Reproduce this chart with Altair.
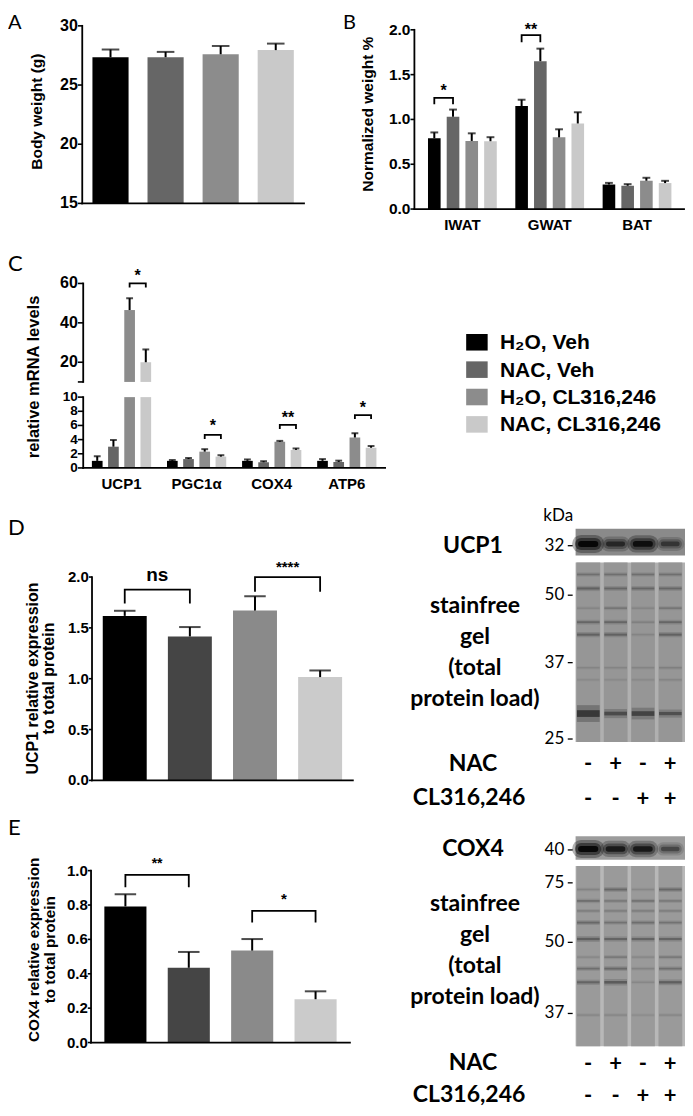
import altair as alt
import pandas as pd

W, H = 677, 1100
SX, SY = W / 693.0, H / 1109.0
Y0 = 3.0


def px(v):
    return round(v * SX, 2)


def py(v):
    return round((v - Y0) * SY, 2)


GP = "Liberation Sans"
BL = "Lato"

# ---------------- data ----------------
conds = ["H₂O, Veh", "NAC, Veh", "H₂O, CL316,246", "NAC, CL316,246"]
colors_abc = ["#000000", "#666666", "#8c8c8c", "#c9c9c9"]
colors_de = ["#000000", "#454545", "#8a8a8a", "#cbcbcb"]

# A: body weight
a_mean = [27.35, 27.35, 27.6, 27.95]
a_sem = [0.65, 0.45, 0.7, 0.55]
a_ticks = [15, 20, 25, 30]

# B: normalized weight
b_tissues = ["IWAT", "GWAT", "BAT"]
b_iwat_mean = [0.79, 1.03, 0.76, 0.757]
b_iwat_sem = [0.065, 0.08, 0.085, 0.045]
b_gwat_mean = [1.15, 1.65, 0.80, 0.955]
b_gwat_sem = [0.07, 0.14, 0.09, 0.125]
b_bat_mean = [0.274, 0.26, 0.316, 0.29]
b_bat_sem = [0.018, 0.018, 0.033, 0.025]
b_ticks = [0.0, 0.5, 1.0, 1.5, 2.0]
b_sig = [("IWAT", 0, 1, 1.24, 1.17, "*"), ("GWAT", 0, 1, 1.94, 1.86, "**")]

# C: mRNA levels
c_genes = ["UCP1", "PGC1α", "COX4", "ATP6"]
c_ucp1_mean = [1.0, 3.0, 46.5, 20.0]
c_ucp1_sem = [0.65, 0.95, 6.0, 6.5]
c_pgc1a_mean = [1.0, 1.25, 2.3, 1.6]
c_pgc1a_sem = [0.12, 0.15, 0.35, 0.2]
c_cox4_mean = [1.0, 0.8, 3.7, 2.55]
c_cox4_sem = [0.2, 0.15, 0.12, 0.2]
c_atp6_mean = [1.0, 0.85, 4.3, 2.85]
c_atp6_sem = [0.25, 0.18, 0.6, 0.25]
c_low_ticks = [0, 2, 4, 6, 8, 10]
c_high_ticks = [10, 20, 40, 60]
c_sig_high = [("UCP1", 2, 3, 60.3, 58.0, "*")]
c_sig_low = [("PGC1α", 2, 3, 4.67, 4.1, "*"), ("COX4", 2, 3, 6.07, 5.5, "**"),
             ("ATP6", 2, 3, 7.47, 6.9, "*")]

# D: UCP1 protein
d_mean = [1.618, 1.416, 1.67, 1.016]
d_sem = [0.05, 0.092, 0.14, 0.065]
d_ticks = [0.0, 0.5, 1.0, 1.5, 2.0]
d_sig = [(0, 1, 1.877, 1.74, "ns"), (2, 3, 2.0, 1.855, "****")]

# E: COX4 protein
e_mean = [0.792, 0.435, 0.535, 0.252]
e_sem = [0.07, 0.092, 0.067, 0.046]
e_ticks = [0.0, 0.2, 0.4, 0.6, 0.8, 1.0]
e_sig = [(0, 1, 0.975, 0.904, "**"), (2, 3, 0.766, 0.698, "*")]

# blots
lanes = [0, 1, 2, 3]
nac_signs = ["-", "+", "-", "+"]
cl_signs = ["-", "-", "+", "+"]
ucp1_marker = [32]
ucp1_band_kda = 32.2
ucp1_band_int = [1.0, 0.62, 0.9, 0.5]
cox4_marker = [40]
cox4_band_kda = 40.1
cox4_band_int = [1.0, 0.78, 0.8, 0.42]
gel1_markers = [25, 37, 50]
gel1_band_kda = [54.0, 51.3, 47.5, 44.8, 42.4, 36.2, 34.3, 29.0]
gel1_lane1 = [0.35, 0.5, 0.15, 0.45, 0.5, 0.15, 0.1, 1.0]
gel1_lane2 = [0.35, 0.45, 0.3, 0.45, 0.5, 0.15, 0.1, 0.75]
gel1_lane3 = [0.35, 0.45, 0.15, 0.2, 0.15, 0.15, 0.1, 0.85]
gel1_lane4 = [0.35, 0.45, 0.3, 0.45, 0.5, 0.2, 0.15, 0.7]
gel2_markers = [37, 50, 75]
gel2_band_kda = [72.2, 67.4, 63.2, 58.3, 51.4, 47.3, 45.2, 42.7, 36.7]
gel2_lane1 = [0.2, 0.4, 0.25, 0.45, 0.55, 0.15, 0.4, 0.5, 0.15]
gel2_lane2 = [0.45, 0.3, 0.25, 0.35, 0.5, 0.3, 0.45, 0.6, 0.15]
gel2_lane3 = [0.15, 0.35, 0.25, 0.4, 0.5, 0.15, 0.2, 0.15, 0.1]
gel2_lane4 = [0.45, 0.3, 0.25, 0.35, 0.5, 0.3, 0.4, 0.55, 0.15]

ONE = alt.Data(values=[{}])


# ---------------- helpers ----------------
def y_axis(ax_x, ticks, fmt, ydom, lsize, tick_len, gap, hide=()):
    labs = ["" if v in hide else format(v, fmt) for v in ticks]
    tdf = pd.DataFrame({"v": ticks, "lab": labs})
    dom = alt.Chart(ONE).mark_rule(color="black", strokeWidth=1.8, strokeCap="square").encode(
        x=alt.value(px(ax_x)), y=alt.YDatum(ydom[0], axis=None), y2=alt.Y2Datum(ydom[1]))
    tk = alt.Chart(tdf).mark_rule(color="black", strokeWidth=1.6).encode(
        x=alt.value(px(ax_x - tick_len)), x2=alt.value(px(ax_x)), y=alt.Y("v:Q", axis=None))
    lb = alt.Chart(tdf).mark_text(align="right", baseline="middle", font=GP, fontSize=lsize,
                                  fontWeight="bold", color="black").encode(
        x=alt.value(px(ax_x - gap)), y=alt.Y("v:Q", axis=None), text="lab:N")
    return [dom, tk, lb]


def x_axis(x0, x1, base):
    return alt.Chart(ONE).mark_rule(color="black", strokeWidth=1.8, strokeCap="square").encode(
        x=alt.value(px(x0)), x2=alt.value(px(x1)), y=alt.YDatum(base, axis=None))


def x_labels(groups, y):
    return alt.Chart(pd.DataFrame({"group": groups})).mark_text(
        font=GP, fontSize=15, fontWeight="bold", color="black", baseline="alphabetic").encode(
        x=alt.X("group:N", axis=None, sort=groups), y=alt.value(py(y)), text="group:N")


def label(text, x, y, size, font=BL, weight="bold", align="center", lh=None, angle=None,
          baseline="alphabetic"):
    kw = dict(text=text, font=font, fontSize=size, fontWeight=weight, align=align,
              baseline=baseline, color="black")
    if lh:
        kw["lineHeight"] = lh
    if angle is not None:
        kw["angle"] = angle
    return alt.Chart(ONE).mark_text(**kw).encode(x=alt.value(px(x)), y=alt.value(py(y)))


def ytitle(text, x_right, y_center, size, lh=16):
    return label(text, x_right, y_center, size, font=GP, angle=270, baseline="bottom", lh=lh)


def with_hi(df):
    df = df.copy()
    df["hi"] = df["mean"] + df["sem"]
    return df


def simple_panel(mean, sem, colors, xr, pin, pout, yr, ydom, base, sig, cap_w, star_size,
                 star_dy, axis_layers):
    df = with_hi(pd.DataFrame({"cond": conds, "mean": mean, "sem": sem}))
    xs = alt.Scale(domain=conds, range=[px(xr[0]), px(xr[1])], paddingInner=pin, paddingOuter=pout)
    ys = alt.Scale(domain=ydom, range=[py(yr[0]), py(yr[1])], nice=False, zero=False)
    step = (xr[1] - xr[0]) / (4 - pin + 2 * pout)
    Xn = alt.X("cond:N", axis=None, sort=conds)
    bars = alt.Chart(df).mark_bar().encode(
        x=alt.X("cond:N", scale=xs, axis=None, sort=conds),
        y=alt.Y("mean:Q", scale=ys, axis=None), y2=alt.datum(base),
        color=alt.Color("cond:N", scale=alt.Scale(domain=conds, range=colors), legend=None))
    err = alt.Chart(df).mark_rule(color="black", strokeWidth=2).encode(
        x=Xn, y=alt.Y("mean:Q", axis=None), y2="hi:Q")
    cap = alt.Chart(df).mark_tick(color="black", size=px(cap_w), thickness=2).encode(
        x=Xn, y=alt.Y("hi:Q", axis=None))
    rows, trows = [], []
    for k, (i, j, top, low, lab) in enumerate(sig):
        for o, (c, v) in enumerate([(i, low), (i, top), (j, top), (j, low)]):
            rows.append({"id": k, "o": o, "cond": conds[c], "v": v})
        trows.append({"cond": conds[i], "v": top, "label": lab})
    br = alt.Chart(pd.DataFrame(rows)).mark_line(color="black", strokeWidth=1.8).encode(
        x=Xn, y=alt.Y("v:Q", axis=None), detail="id:N", order="o:Q")
    layers = [bars, err, cap, br]
    for r, dy, fs in zip(trows, star_dy, star_size):
        layers.append(alt.Chart(pd.DataFrame([r])).mark_text(
            font=GP, fontSize=fs, fontWeight="bold", color="black", baseline="alphabetic",
            dy=dy, dx=px(step / 2)).encode(x=Xn, y=alt.Y("v:Q", axis=None), text="label:N"))
    return alt.layer(*layers, *axis_layers)


def grouped_panel(df, groups, colors, xr, pin, pout, pin2, pout2, yr, ydom, base, sig, cap_w,
                  star_dy, axis_layers, clamp=False, bar_df=None, err_df=None, star_size=16):
    xs = alt.Scale(domain=groups, range=[px(xr[0]), px(xr[1])], paddingInner=pin, paddingOuter=pout)
    os_ = alt.Scale(domain=conds, paddingInner=pin2, paddingOuter=pout2)
    ys = alt.Scale(domain=ydom, range=[py(yr[0]), py(yr[1])], nice=False, zero=False, clamp=clamp)
    step = (xr[1] - xr[0]) / (len(groups) - pin + 2 * pout)
    sub = step * (1 - pin) / (4 - pin2 + 2 * pout2)
    bar_df = df if bar_df is None else bar_df
    err_df = df if err_df is None else err_df
    Xn = alt.X("group:N", axis=None, sort=groups)
    On = alt.XOffset("cond:N", sort=conds)
    layers = [alt.Chart(bar_df).mark_bar().encode(
        x=alt.X("group:N", scale=xs, axis=None, sort=groups),
        xOffset=alt.XOffset("cond:N", scale=os_, sort=conds),
        y=alt.Y("mean:Q", scale=ys, axis=None), y2=alt.datum(base),
        color=alt.Color("cond:N", scale=alt.Scale(domain=conds, range=colors), legend=None))]
    if len(err_df):
        layers.append(alt.Chart(err_df).mark_rule(color="black", strokeWidth=2).encode(
            x=Xn, xOffset=On, y=alt.Y("mean:Q", axis=None), y2="hi:Q"))
        layers.append(alt.Chart(err_df).mark_tick(color="black", size=px(cap_w), thickness=2).encode(
            x=Xn, xOffset=On, y=alt.Y("hi:Q", axis=None)))
    rows, trows = [], []
    for k, (g, i, j, top, low, lab) in enumerate(sig):
        for o, (c, v) in enumerate([(i, low), (i, top), (j, top), (j, low)]):
            rows.append({"id": k, "o": o, "group": g, "cond": conds[c], "v": v})
        trows.append({"group": g, "cond": conds[i], "v": top, "label": lab})
    if rows:
        layers.append(alt.Chart(pd.DataFrame(rows)).mark_line(color="black", strokeWidth=1.8).encode(
            x=Xn, xOffset=On, y=alt.Y("v:Q", axis=None), detail="id:N", order="o:Q"))
        for r, dy in zip(trows, star_dy):
            layers.append(alt.Chart(pd.DataFrame([r])).mark_text(
                font=GP, fontSize=star_size, fontWeight="bold", color="black",
                baseline="alphabetic", dy=dy, dx=px(sub / 2)).encode(
                x=Xn, xOffset=On, y=alt.Y("v:Q", axis=None), text="label:N"))
    return alt.layer(*layers, *axis_layers)


BLOT_X = alt.Scale(domain=[0, 4], range=[px(581), px(693)], nice=False, zero=False)


def blot_axis(values):
    tdf = pd.DataFrame({"v": values, "lab": [str(v) for v in values]})
    tk = alt.Chart(tdf).mark_rule(color="black", strokeWidth=1.3).encode(
        x=alt.value(px(573)), x2=alt.value(px(578)), y=alt.Y("v:Q", axis=None))
    lb = alt.Chart(tdf).mark_text(align="right", baseline="middle", font=BL, fontSize=17,
                                  color="black").encode(
        x=alt.value(px(569.5)), y=alt.Y("v:Q", axis=None), text="lab:N")
    return [tk, lb]


def strip_panel(y0, y1, kdom, marker, band_kda, ints, bg):
    ys = alt.Scale(domain=kdom, range=[py(y1), py(y0)], nice=False, zero=False)
    bgdf = pd.DataFrame({"x0": [0], "x1": [4], "lo": [kdom[0]], "hi": [kdom[1]]})
    layers = [alt.Chart(bgdf).mark_rect(color=bg).encode(
        x=alt.X("x0:Q", scale=BLOT_X, axis=None), x2="x1:Q",
        y=alt.Y("lo:Q", scale=ys, axis=None), y2="hi:Q")]
    bdf = pd.DataFrame({"lane": lanes, "int": ints, "kda": [band_kda] * 4})
    for w, f in [(18, 0.3), (12, 0.45), (6, 0.85)]:
        layers.append(alt.Chart(bdf).transform_calculate(
            l0="datum.lane + 0.2", l1="datum.lane + 0.72",
            op=f"datum.int * {f}", sw=f"{w} * (0.55 + 0.45 * datum.int)").mark_rule(
            color="black", strokeCap="round").encode(
            x=alt.X("l0:Q", axis=None), x2="l1:Q", y=alt.Y("kda:Q", axis=None),
            opacity=alt.Opacity("op:Q", scale=None), size=alt.Size("sw:Q", scale=None)))
    return alt.layer(*layers, *blot_axis(marker))


def gel_panel(markers, marker_px, kbot, ktop, band_kda, lane_ints, bg, lane_col, sign_y):
    ys = alt.Scale(domain=markers, range=[py(p) for p in marker_px], nice=False, zero=False)
    bgdf = pd.DataFrame({"x0": [0], "x1": [4], "lo": [kbot], "hi": [ktop]})
    layers = [alt.Chart(bgdf).mark_rect(color=bg).encode(
        x=alt.X("x0:Q", scale=BLOT_X, axis=None), x2="x1:Q",
        y=alt.Y("lo:Q", scale=ys, axis=None), y2="hi:Q")]
    ldf = pd.DataFrame({"lane": lanes, "lo": [kbot] * 4, "hi": [ktop] * 4})
    layers.append(alt.Chart(ldf).transform_calculate(
        l0="datum.lane + 0.03", l1="datum.lane + 0.9").mark_rect(color=lane_col).encode(
        x=alt.X("l0:Q", axis=None), x2="l1:Q", y=alt.Y("lo:Q", axis=None), y2="hi:Q"))
    rows = []
    for ln, ints in zip(lanes, lane_ints):
        for k, v in zip(band_kda, ints):
            rows.append({"lane": ln, "kda": k, "int": v})
    bdf = pd.DataFrame(rows)
    for w, f in [(6, 0.25), (2.4, 0.6)]:
        layers.append(alt.Chart(bdf).transform_calculate(
            l0="datum.lane + 0.05", l1="datum.lane + 0.88", op=f"datum.int * {f}",
            sw=f"{w} * (0.6 + 2.2 * pow(datum.int, 3))").mark_rule(color="#101010").encode(
            x=alt.X("l0:Q", axis=None), x2="l1:Q", y=alt.Y("kda:Q", axis=None),
            opacity=alt.Opacity("op:Q", scale=None), size=alt.Size("sw:Q", scale=None)))
    sdf = pd.DataFrame({"lane": lanes, "nac": nac_signs, "cl": cl_signs})
    for col, yv in zip(["nac", "cl"], sign_y):
        layers.append(alt.Chart(sdf).transform_calculate(xc="datum.lane + 0.46").mark_text(
            font=BL, fontSize=22, fontWeight="bold", color="black", baseline="alphabetic").encode(
            x=alt.X("xc:Q", axis=None), y=alt.value(py(yv)), text=f"{col}:N"))
    return alt.layer(*layers, *blot_axis(markers))


# ---------------- panels ----------------
panel_a = simple_panel(
    a_mean, a_sem, colors_abc, (76, 303), 0.344, 0.185, (200, 21), [15, 30], 15, [], 18, [], [],
    y_axis(76, a_ticks, "d", [15, 30], 16, 4.5, 4.5) + [x_axis(76, 303, 15)])

b_rows = []
for g, m, s in [("IWAT", b_iwat_mean, b_iwat_sem), ("GWAT", b_gwat_mean, b_gwat_sem),
                ("BAT", b_bat_mean, b_bat_sem)]:
    for c, mv, sv in zip(conds, m, s):
        b_rows.append({"group": g, "cond": c, "mean": mv, "sem": sv})
b_df = with_hi(pd.DataFrame(b_rows))
panel_b = grouped_panel(
    b_df, b_tissues, colors_abc, (416, 693), 0.139, 0.119, 0.326, 0.171, (205.7, 25), [0, 2],
    0, b_sig, 8, [-2, 0],
    y_axis(416, b_ticks, ".1f", [0, 2], 15.5, 4, 4) + [x_axis(416, 692, 0),
                                                      x_labels(b_tissues, 227)])

c_rows = []
for g, m, s in [("UCP1", c_ucp1_mean, c_ucp1_sem), ("PGC1α", c_pgc1a_mean, c_pgc1a_sem),
                ("COX4", c_cox4_mean, c_cox4_sem), ("ATP6", c_atp6_mean, c_atp6_sem)]:
    for c, mv, sv in zip(conds, m, s):
        c_rows.append({"group": g, "cond": c, "mean": mv, "sem": sv})
c_df = with_hi(pd.DataFrame(c_rows))
C_X = dict(xr=(77, 386), pin=0.17, pout=0.095, pin2=0.34, pout2=0.095)
panel_c_low = grouped_panel(
    c_df, c_genes, colors_abc, C_X["xr"], C_X["pin"], C_X["pout"], C_X["pin2"], C_X["pout2"],
    (466.7, 395.3), [0, 10], 0, c_sig_low, 7, [-3.5, -2, -2.5],
    y_axis(77, c_low_ticks, "d", [0, 10], 13.5, 5.5, 5.5) + [x_axis(77, 386, 0),
                                                            x_labels(c_genes, 488)],
    clamp=True, err_df=c_df[c_df["hi"] <= 10])
c_high = c_df[c_df["mean"] > 10]
panel_c_high = grouped_panel(
    c_df, c_genes, colors_abc, C_X["xr"], C_X["pin"], C_X["pout"], C_X["pin2"], C_X["pout2"],
    (380, 280.7), [10, 60], 10, c_sig_high, 7, [-2],
    y_axis(77, c_high_ticks, "d", [10, 60], 16, 5.5, 5.5, hide=(10,)),
    clamp=True, bar_df=c_high, err_df=c_high)

panel_d = simple_panel(
    d_mean, d_sem, colors_de, (86, 353), 0.325, 0.165, (781.7, 576.7), [0, 2], 0, d_sig, 22,
    [19, 15], [-9, -5],
    y_axis(86, d_ticks, ".1f", [0, 2], 15, 3.2, 3.2) + [x_axis(86, 353, 0)])

panel_e = simple_panel(
    e_mean, e_sem, colors_de, (85, 350), 0.336, 0.21, (1046, 872.7), [0, 1], 0, e_sig, 22,
    [14, 15], [-7, -7],
    y_axis(85, e_ticks, ".1f", [0, 1], 15, 3.3, 3.3) + [x_axis(85, 350, 0)])

# legend drawn from the condition list and colour scale
leg_df = pd.DataFrame({"cond": conds})
leg_y = alt.Scale(domain=conds, range=[py(326.2), py(436.6)], paddingInner=0.395, paddingOuter=0.1975)
legend_layer = alt.layer(
    alt.Chart(leg_df).mark_rect().encode(
        x=alt.value(px(469)), x2=alt.value(px(491)),
        y=alt.Y("cond:N", scale=leg_y, axis=None, sort=conds),
        color=alt.Color("cond:N", scale=alt.Scale(domain=conds, range=colors_abc), legend=None)),
    alt.Chart(leg_df).mark_text(align="left", baseline="middle", font=GP, fontSize=21,
                                fontWeight="bold", color="black", dy=1).encode(
        x=alt.value(px(503.5)), y=alt.Y("cond:N", axis=None, sort=conds), text="cond:N"),
)

ucp1_strip = strip_panel(528, 555, [30.9, 33.9], ucp1_marker, ucp1_band_kda, ucp1_band_int, "#8a8a8a")
cox4_strip = strip_panel(838, 861.7, [39.0, 41.4], cox4_marker, cox4_band_kda, cox4_band_int, "#9c9c9c")
gel1 = gel_panel(gel1_markers, [740, 663, 595], 24.53, 56.3, gel1_band_kda,
                 [gel1_lane1, gel1_lane2, gel1_lane3, gel1_lane4], "#b0b0b0", "#969696", [772, 808])
gel2 = gel_panel(gel2_markers, [1016.7, 945, 885], 31.0, 82.1, gel2_band_kda,
                 [gel2_lane1, gel2_lane2, gel2_lane3, gel2_lane4], "#b8b8b8", "#9a9a9a", [1075, 1107])

gel_text = ["stainfree", "gel", "(total", "protein load)"]
texts = [
    label("A", 0, 24, 20, weight="normal", align="left"),
    label("B", 343, 24, 20, weight="normal", align="left"),
    label("C", 0, 268, 22, weight="normal", align="left"),
    label("D", 0, 534, 22, weight="normal", align="left"),
    label("E", 0, 837, 22, weight="normal", align="left"),
    ytitle("Body weight (g)", 37.5, 107.5, 15.5),
    ytitle("Normalized weight %", 377, 110, 15.5),
    ytitle("relative mRNA levels", 35, 375, 16.5),
    ytitle(["UCP1 relative expression", "to total protein"], 34, 679, 16, lh=15.5),
    ytitle(["COX4 relative expression", "to total protein"], 35, 952.5, 15.3, lh=15.5),
    label("kDa", 548, 520, 17, weight="normal", align="left"),
    label("UCP1", 476, 552.7, 23),
    label(gel_text, 478, 613, 23, lh=31),
    label("NAC", 476, 772, 23),
    label("CL316,246", 472, 807, 23),
    label("COX4", 476, 858, 23),
    label(gel_text, 478, 913, 23, lh=31),
    label("NAC", 476, 1074, 23),
    label("CL316,246", 472, 1106, 23),
]

chart = alt.layer(
    panel_a, panel_b, panel_c_high, panel_c_low, panel_d, panel_e, legend_layer,
    ucp1_strip, gel1, cox4_strip, gel2, *texts
).resolve_scale(
    x="independent", y="independent", color="independent", xOffset="independent"
).properties(
    width=W, height=H, autosize=alt.AutoSizeParams(type="none"), padding=0
).configure_view(stroke=None)

chart.save("out.html", embed_options={"renderer": "svg", "actions": False})
